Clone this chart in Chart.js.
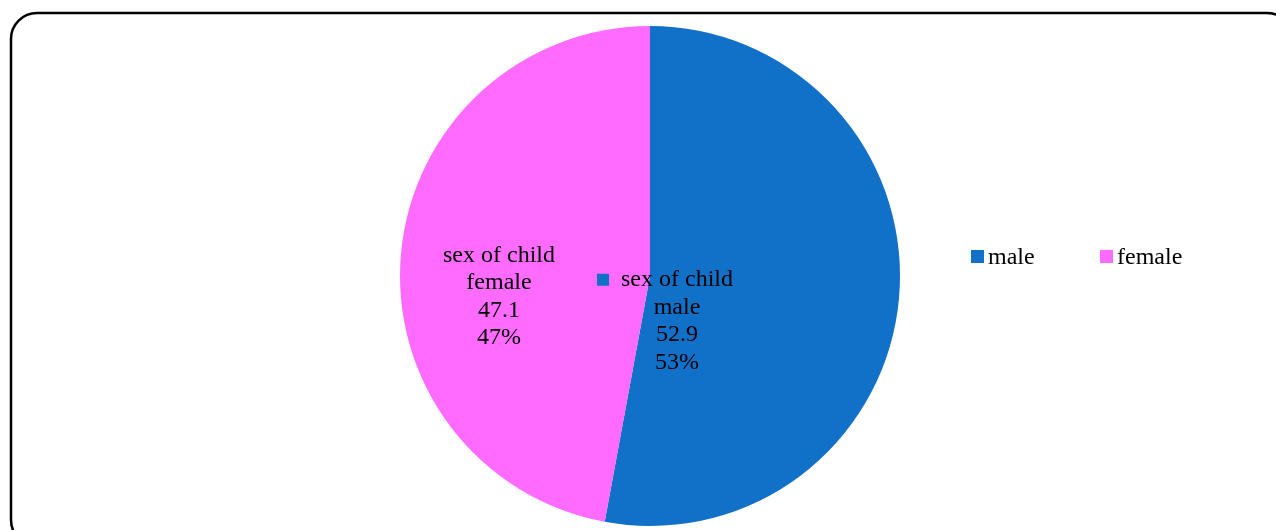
<!DOCTYPE html>
<html>
<head>
<meta charset="utf-8">
<script src="https://cdn.jsdelivr.net/npm/chart.js@4"></script>
<style>
  html,body{margin:0;padding:0;background:#fff;overflow:hidden;}
  #wrap{width:1276px;height:530px;position:relative;}
</style>
</head>
<body>
<div id="wrap"><canvas id="c" width="1276" height="530"></canvas></div>
<script>
const seriesName = "sex of child";
const categories = ["male", "female"];
const values = [52.9, 47.1];
const colors = ["#1170C8", "#FF6BFF"];

const FONT = '24px "Liberation Serif", "Times New Roman", serif';

// where each slice label sits, relative to the pie centre (in radii)
const labelSpots = [{dx: 0.108, dy: 0.18}, {dx: -0.604, dy: 0.082}];

function qs(id){ return document.getElementById(id); }

const frame = {
  id: "frame",
  beforeDraw(chart){
    const ctx = chart.ctx;
    ctx.save();
    ctx.fillStyle = "#fff";
    ctx.fillRect(0, 0, chart.width, chart.height);
    ctx.strokeStyle = "#000";
    ctx.lineWidth = 2.5;
    ctx.beginPath();
    ctx.roundRect(11, 13, 1282, 533, 26);
    ctx.stroke();
    ctx.restore();
  }
};

const sliceLabels = {
  id: "sliceLabels",
  afterDatasetsDraw(chart){
    const ctx = chart.ctx;
    const meta = chart.getDatasetMeta(0);
    const total = values.reduce((a, b) => a + b, 0);
    ctx.save();
    ctx.font = FONT;
    ctx.fillStyle = "#000";
    ctx.textAlign = "center";
    ctx.textBaseline = "middle";
    meta.data.forEach((arc, i) => {
      const r = arc.outerRadius;
      const cx = arc.x + labelSpots[i].dx * r;
      const cy = arc.y + labelSpots[i].dy * r;
      const lines = [seriesName, categories[i], String(values[i]), Math.round(values[i] / total * 100) + "%"];
      const lh = 27.5;
      const top = cy - lh * (lines.length - 1) / 2;
      lines.forEach((t, k) => ctx.fillText(t, cx, top + k * lh));
      if (i === 0) {
        const w = ctx.measureText(seriesName).width;
        ctx.fillStyle = colors[0];
        ctx.fillRect(cx - w / 2 - 24, top - 6, 12, 12);
        ctx.fillStyle = "#000";
      }
    });
    ctx.restore();
  }
};

const sideLegend = {
  id: "sideLegend",
  afterDraw(chart){
    const ctx = chart.ctx;
    const xs = [971, 1100];
    const y = 257;
    ctx.save();
    ctx.font = FONT;
    ctx.textBaseline = "middle";
    ctx.textAlign = "left";
    categories.forEach((name, i) => {
      ctx.fillStyle = colors[i];
      ctx.fillRect(xs[i], y - 7, 13, 13);
      ctx.fillStyle = "#000";
      ctx.fillText(name, xs[i] + 17, y + 1);
    });
    ctx.restore();
  }
};

new Chart(qs("c"), {
  type: "pie",
  data: {
    labels: categories,
    datasets: [{
      label: seriesName,
      data: values,
      backgroundColor: colors,
      borderWidth: 0
    }]
  },
  options: {
    responsive: false,
    animation: false,
    layout: {padding: {left: 400, right: 376, top: 26, bottom: 4}},
    plugins: {legend: {display: false}, tooltip: {enabled: false}}
  },
  plugins: [frame, sliceLabels, sideLegend]
});
</script>
</body>
</html>
